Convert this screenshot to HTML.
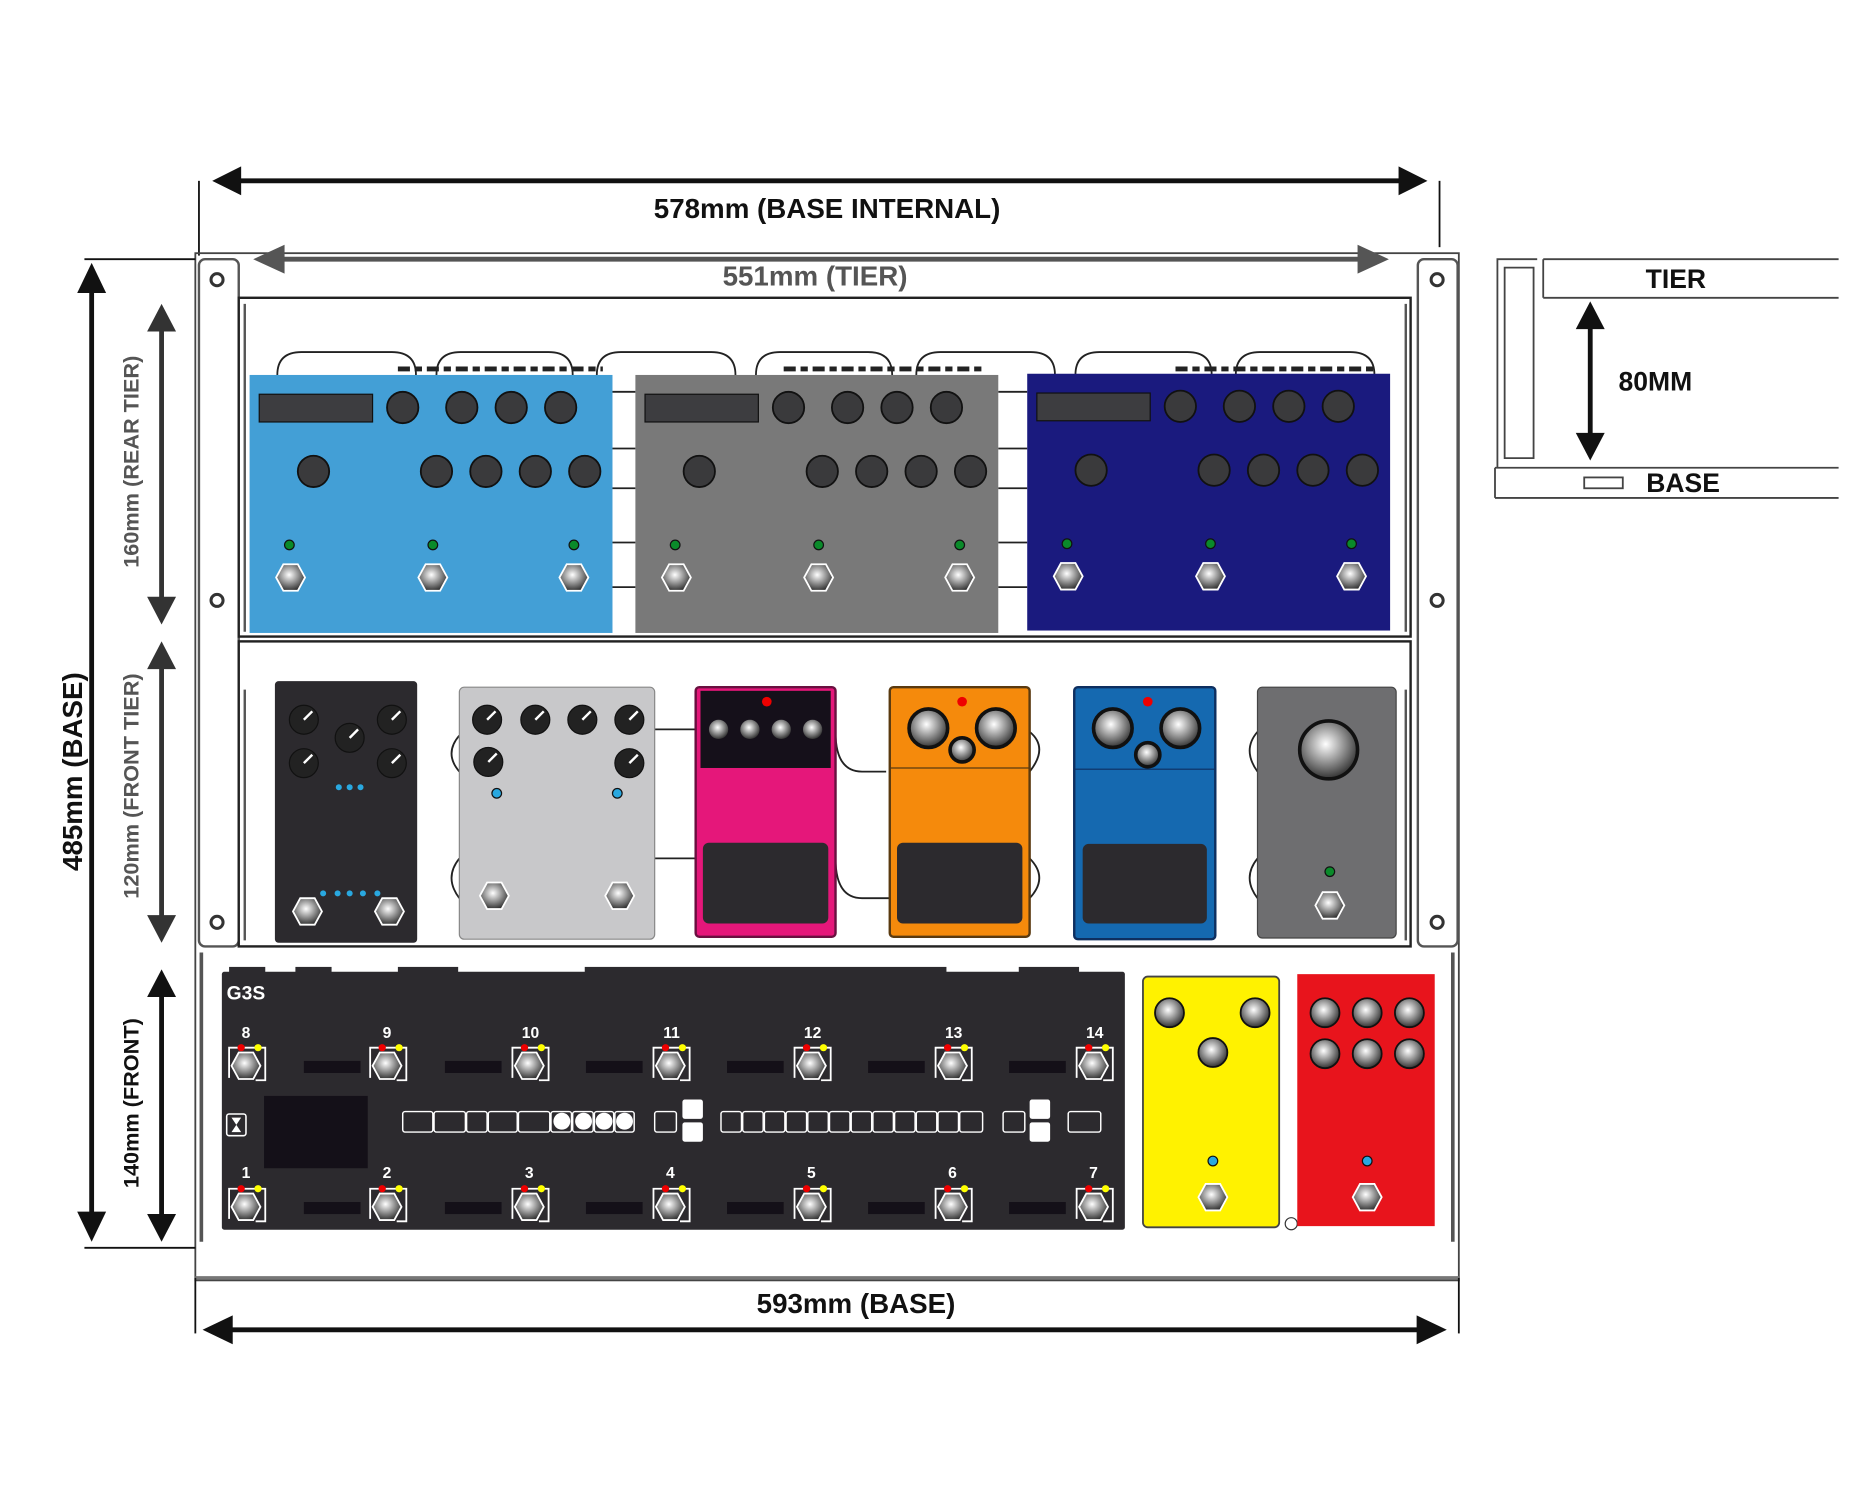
<!DOCTYPE html>
<html><head><meta charset="utf-8"><style>
html,body{margin:0;padding:0;background:#fff}
svg{display:block}
text{font-family:"Liberation Sans",sans-serif;font-weight:bold}
</style></head><body>
<svg width="1876" height="1501" viewBox="0 0 1556 1245" xmlns="http://www.w3.org/2000/svg">
<defs>
<radialGradient id="gr" cx="45%" cy="40%" r="60%"><stop offset="0" stop-color="#fff"/><stop offset="1" stop-color="#333"/></radialGradient>
<marker id="ah" markerWidth="8" markerHeight="8" refX="7" refY="4" orient="auto" markerUnits="strokeWidth"><path d="M0,0 L8,4 L0,8 z" fill="#111"/></marker>
<g id="fs"><polygon points="-12,0 -6,-11 6,-11 12,0 6,11 -6,11" fill="url(#gr)" stroke="#fff" stroke-width="1.5"/></g>
<g id="kn"><circle r="13" fill="#3a3a3c" stroke="#111" stroke-width="1.5"/></g>
<g id="gk"><circle r="12" fill="url(#gr)" stroke="#111" stroke-width="1.5"/></g>
<g id="g3"><path d="M-14,10 V-15 H16 V12 H8" fill="none" stroke="#fff" stroke-width="1.5"/><circle cx="-4" cy="-15" r="3" fill="#e00"/><circle cx="10" cy="-15" r="3" fill="#ff0"/><use href="#fs"/></g>
<g id="bk"><circle r="12" fill="#222" stroke="#111"/><line x1="0" y1="0" x2="7" y2="-7" stroke="#fff" stroke-width="2"/></g>
</defs>

<!-- top dimension -->
<line x1="165" y1="150" x2="165" y2="212" stroke="#111" stroke-width="1.5"/>
<line x1="1194" y1="150" x2="1194" y2="205" stroke="#111" stroke-width="1.5"/>
<line x1="195" y1="150" x2="1165" y2="150" stroke="#111" stroke-width="4"/>
<polygon points="176,150 200,138 200,162" fill="#111"/><polygon points="1184,150 1160,138 1160,162" fill="#111"/>
<text x="686" y="181" font-size="23" text-anchor="middle" fill="#111">578mm (BASE INTERNAL)</text>

<!-- frame -->
<rect x="162" y="210" width="1048" height="852" fill="none" stroke="#444" stroke-width="1.5"/>
<rect x="165" y="215" width="33" height="570" rx="5" fill="#fff" stroke="#555" stroke-width="2"/>
<rect x="1176" y="215" width="33" height="570" rx="5" fill="#fff" stroke="#555" stroke-width="2"/>
<line x1="162" y1="1060" x2="1210" y2="1060" stroke="#777" stroke-width="3"/>
<line x1="167" y1="790" x2="167" y2="1030" stroke="#555" stroke-width="3"/>
<line x1="1205" y1="790" x2="1205" y2="1030" stroke="#555" stroke-width="3"/>
<line x1="230" y1="215" x2="1140" y2="215" stroke="#555" stroke-width="4"/>
<polygon points="210,215 236,203 236,227" fill="#555"/><polygon points="1152,215 1126,203 1126,227" fill="#555"/>
<text x="676" y="237" font-size="23" text-anchor="middle" fill="#555">551mm (TIER)</text>

<g fill="#fff" stroke="#333" stroke-width="2.5">
<circle cx="180" cy="232" r="5"/><circle cx="180" cy="498" r="5"/><circle cx="180" cy="765" r="5"/>
<circle cx="1192" cy="232" r="5"/><circle cx="1192" cy="498" r="5"/><circle cx="1192" cy="765" r="5"/>
</g>

<rect x="198" y="247" width="972" height="281" fill="#fff" stroke="#222" stroke-width="2"/>
<line x1="203" y1="252" x2="203" y2="524" stroke="#555" stroke-width="2"/>
<line x1="1166" y1="252" x2="1166" y2="524" stroke="#555" stroke-width="2"/>
<rect x="198" y="532" width="972" height="253" fill="#fff" stroke="#222" stroke-width="2"/>
<line x1="203" y1="572" x2="203" y2="780" stroke="#555" stroke-width="2"/>
<line x1="1166" y1="572" x2="1166" y2="780" stroke="#555" stroke-width="2"/>

<!-- rear cables -->
<g fill="none" stroke="#222" stroke-width="1.5">
<path d="M230,311 Q230,292 250,292 H325 Q345,292 345,311"/>
<path d="M362,311 Q362,292 382,292 H455 Q475,292 475,311"/>
<path d="M495,311 Q495,292 515,292 H590 Q610,292 610,311"/>
<path d="M627,311 Q627,292 647,292 H720 Q740,292 740,311"/>
<path d="M760,311 Q760,292 780,292 H855 Q875,292 875,311"/>
<path d="M892,311 Q892,292 912,292 H985 Q1005,292 1005,311"/>
<path d="M1025,311 Q1025,292 1045,292 H1120 Q1140,292 1140,311"/>
<path d="M508,325 H527 M508,372 H527 M508,405 H527 M508,450 H527 M508,487 H527"/>
<path d="M828,325 H852 M828,372 H852 M828,405 H852 M828,450 H852 M828,487 H852"/>
</g>
<g stroke="#222" stroke-width="4" stroke-dasharray="10,4,6,4">
<line x1="330" y1="306" x2="500" y2="306"/><line x1="650" y1="306" x2="815" y2="306"/><line x1="975" y1="306" x2="1140" y2="306"/>
</g>

<!-- rear pedals -->
<g>
<rect x="207" y="311" width="301" height="214" fill="#439fd6"/>
<rect x="527" y="311" width="301" height="214" fill="#797979"/>
<rect x="852" y="310" width="301" height="213" fill="#1a1a7e"/>
</g>
<g id="rp">
<rect x="215" y="327" width="94" height="23" fill="#3d3d40" stroke="#111"/>
<use href="#kn" x="334" y="338"/><use href="#kn" x="383" y="338"/><use href="#kn" x="424" y="338"/><use href="#kn" x="465" y="338"/>
<use href="#kn" x="260" y="391"/><use href="#kn" x="362" y="391"/><use href="#kn" x="403" y="391"/><use href="#kn" x="444" y="391"/><use href="#kn" x="485" y="391"/>
<circle cx="240" cy="452" r="4" fill="#0a8a2a" stroke="#111"/><circle cx="359" cy="452" r="4" fill="#0a8a2a" stroke="#111"/><circle cx="476" cy="452" r="4" fill="#0a8a2a" stroke="#111"/>
<use href="#fs" x="241" y="479"/><use href="#fs" x="359" y="479"/><use href="#fs" x="476" y="479"/>
</g>
<use href="#rp" x="320"/>
<use href="#rp" x="645" y="-1"/>

<!-- front cables -->
<g fill="none" stroke="#222" stroke-width="1.5">
<path d="M381,610 Q368,625 381,640"/><path d="M381,712 Q368,728 381,745"/>
<path d="M543,605 H577 M543,712 H577"/>
<path d="M693,607 Q693,640 715,640 H735 M693,712 Q693,745 715,745 H738"/>
<path d="M854,607 Q870,620 854,640 M854,712 Q870,728 854,745"/>
<path d="M1043,607 Q1030,622 1043,640 M1043,712 Q1030,728 1043,745"/>
</g>

<!-- front pedals -->
<rect x="228" y="565" width="118" height="217" rx="3" fill="#2c2a2e"/>
<use href="#bk" x="252" y="597"/><use href="#bk" x="290" y="612"/><use href="#bk" x="325" y="597"/><use href="#bk" x="252" y="633"/><use href="#bk" x="325" y="633"/>
<g fill="#29a8e0"><circle cx="281" cy="653" r="2.5"/><circle cx="290" cy="653" r="2.5"/><circle cx="299" cy="653" r="2.5"/>
<circle cx="268" cy="741" r="2.5"/><circle cx="280" cy="741" r="2.5"/><circle cx="290" cy="741" r="2.5"/><circle cx="301" cy="741" r="2.5"/><circle cx="313" cy="741" r="2.5"/></g>
<use href="#fs" x="255" y="756"/><use href="#fs" x="323" y="756"/>

<rect x="381" y="570" width="162" height="209" rx="4" fill="#c8c8ca" stroke="#888"/>
<use href="#bk" x="404" y="597"/><use href="#bk" x="444" y="597"/><use href="#bk" x="483" y="597"/><use href="#bk" x="522" y="597"/><use href="#bk" x="405" y="632"/><use href="#bk" x="522" y="633"/>
<circle cx="412" cy="658" r="4" fill="#29a8e0" stroke="#111"/><circle cx="512" cy="658" r="4" fill="#29a8e0" stroke="#111"/>
<use href="#fs" x="410" y="743"/><use href="#fs" x="514" y="743"/>

<rect x="577" y="570" width="116" height="207" rx="3" fill="#e5177a" stroke="#6a1040" stroke-width="2"/>
<rect x="581" y="573" width="108" height="64" fill="#15101a"/>
<circle cx="636" cy="582" r="4" fill="#e00"/>
<g fill="url(#gr)"><circle cx="596" cy="605" r="8"/><circle cx="622" cy="605" r="8"/><circle cx="648" cy="605" r="8"/><circle cx="674" cy="605" r="8"/></g>
<rect x="583" y="699" width="104" height="67" rx="5" fill="#2c2a2e"/>

<rect x="738" y="570" width="116" height="207" rx="3" fill="#f58a0c" stroke="#5a3a10" stroke-width="2"/>
<line x1="738" y1="637" x2="854" y2="637" stroke="#5a3a10"/>
<circle cx="798" cy="582" r="4" fill="#e00"/>
<circle cx="770" cy="604" r="16" fill="url(#gr)" stroke="#111" stroke-width="3"/><circle cx="826" cy="604" r="16" fill="url(#gr)" stroke="#111" stroke-width="3"/><circle cx="798" cy="622" r="10" fill="url(#gr)" stroke="#111" stroke-width="3"/>
<rect x="744" y="699" width="104" height="67" rx="5" fill="#2c2a2e"/>

<rect x="891" y="570" width="117" height="209" rx="3" fill="#1569b0" stroke="#0e2f60" stroke-width="2"/>
<line x1="891" y1="638" x2="1008" y2="638" stroke="#0e2f60"/>
<circle cx="952" cy="582" r="4" fill="#e00"/>
<circle cx="923" cy="604" r="16" fill="url(#gr)" stroke="#111" stroke-width="3"/><circle cx="979" cy="604" r="16" fill="url(#gr)" stroke="#111" stroke-width="3"/><circle cx="952" cy="626" r="10" fill="url(#gr)" stroke="#111" stroke-width="3"/>
<rect x="898" y="700" width="103" height="66" rx="5" fill="#2c2a2e"/>

<rect x="1043" y="570" width="115" height="208" rx="4" fill="#6e6e70" stroke="#444"/>
<circle cx="1102" cy="622" r="24" fill="url(#gr)" stroke="#111" stroke-width="3"/>
<circle cx="1103" cy="723" r="4" fill="#0a8a2a" stroke="#111"/>
<use href="#fs" x="1103" y="751"/>

<!-- G3S -->
<g fill="#2c2a2e"><rect x="190" y="802" width="30" height="6"/><rect x="245" y="802" width="30" height="6"/><rect x="330" y="802" width="50" height="6"/><rect x="485" y="802" width="300" height="6"/><rect x="845" y="802" width="50" height="6"/></g>
<rect x="184" y="806" width="749" height="214" rx="2" fill="#2c2a2e"/>
<text x="188" y="829" font-size="16" fill="#fff">G3S</text>
<g fill="#141018"><rect x="252" y="880" width="47" height="10"/><rect x="369" y="880" width="47" height="10"/><rect x="486" y="880" width="47" height="10"/><rect x="603" y="880" width="47" height="10"/><rect x="720" y="880" width="47" height="10"/><rect x="837" y="880" width="47" height="10"/>
<rect x="252" y="997" width="47" height="10"/><rect x="369" y="997" width="47" height="10"/><rect x="486" y="997" width="47" height="10"/><rect x="603" y="997" width="47" height="10"/><rect x="720" y="997" width="47" height="10"/><rect x="837" y="997" width="47" height="10"/>
<rect x="219" y="909" width="86" height="60"/></g>
<use href="#g3" x="204" y="884"/><use href="#g3" x="321" y="884"/><use href="#g3" x="439" y="884"/><use href="#g3" x="556" y="884"/><use href="#g3" x="673" y="884"/><use href="#g3" x="790" y="884"/><use href="#g3" x="907" y="884"/>
<use href="#g3" x="204" y="1001"/><use href="#g3" x="321" y="1001"/><use href="#g3" x="439" y="1001"/><use href="#g3" x="556" y="1001"/><use href="#g3" x="673" y="1001"/><use href="#g3" x="790" y="1001"/><use href="#g3" x="907" y="1001"/>
<g font-size="13" fill="#fff" text-anchor="middle">
<text x="204" y="861">8</text><text x="321" y="861">9</text><text x="440" y="861">10</text><text x="557" y="861">11</text><text x="674" y="861">12</text><text x="791" y="861">13</text><text x="908" y="861">14</text>
<text x="204" y="977">1</text><text x="321" y="977">2</text><text x="439" y="977">3</text><text x="556" y="977">4</text><text x="673" y="977">5</text><text x="790" y="977">6</text><text x="907" y="977">7</text>
</g>
<rect x="188" y="924" width="16" height="18" rx="2" fill="none" stroke="#fff" stroke-width="1.3"/>
<path d="M192,927 H200 L196,933 Z M192,939 H200 L196,933 Z" fill="#fff"/>
<g fill="none" stroke="#fff" stroke-width="1.2">
<rect x="334" y="922" width="25" height="17" rx="2"/><rect x="360" y="922" width="26" height="17" rx="2"/><rect x="387" y="922" width="17" height="17" rx="2"/><rect x="405" y="922" width="24" height="17" rx="2"/><rect x="430" y="922" width="26" height="17" rx="2"/>
<rect x="457" y="922" width="17" height="17" rx="2"/><rect x="475" y="922" width="17" height="17" rx="2"/><rect x="493" y="922" width="16" height="17" rx="2"/><rect x="510" y="922" width="16" height="17" rx="2"/>
<rect x="543" y="922" width="18" height="17" rx="2"/>
<rect x="598" y="922" width="17" height="17" rx="2"/><rect x="616" y="922" width="17" height="17" rx="2"/><rect x="634" y="922" width="17" height="17" rx="2"/><rect x="652" y="922" width="17" height="17" rx="2"/><rect x="670" y="922" width="17" height="17" rx="2"/><rect x="688" y="922" width="17" height="17" rx="2"/><rect x="706" y="922" width="17" height="17" rx="2"/><rect x="724" y="922" width="17" height="17" rx="2"/><rect x="742" y="922" width="17" height="17" rx="2"/><rect x="760" y="922" width="17" height="17" rx="2"/><rect x="778" y="922" width="17" height="17" rx="2"/><rect x="796" y="922" width="19" height="17" rx="2"/>
<rect x="832" y="922" width="18" height="17" rx="2"/><rect x="886" y="922" width="27" height="17" rx="2"/>
</g>
<g fill="#fff"><ellipse cx="466" cy="930" rx="7" ry="7"/><ellipse cx="484" cy="930" rx="7" ry="7"/><ellipse cx="501" cy="930" rx="7" ry="7"/><ellipse cx="518" cy="930" rx="7" ry="7"/>
<rect x="566" y="912" width="17" height="16" rx="2"/><rect x="566" y="931" width="17" height="16" rx="2"/>
<rect x="854" y="912" width="17" height="16" rx="2"/><rect x="854" y="931" width="17" height="16" rx="2"/></g>

<!-- yellow & red -->
<rect x="948" y="810" width="113" height="208" rx="4" fill="#fff200" stroke="#444" stroke-width="1.5"/>
<use href="#gk" x="970" y="840"/><use href="#gk" x="1041" y="840"/><use href="#gk" x="1006" y="873"/>
<circle cx="1006" cy="963" r="4" fill="#29a8e0" stroke="#111"/><use href="#fs" x="1006" y="993"/>
<circle cx="1071" cy="1015" r="5" fill="#fff" stroke="#333"/>
<rect x="1076" y="808" width="114" height="209" fill="#e8141c"/>
<use href="#gk" x="1099" y="840"/><use href="#gk" x="1134" y="840"/><use href="#gk" x="1169" y="840"/>
<use href="#gk" x="1099" y="874"/><use href="#gk" x="1134" y="874"/><use href="#gk" x="1169" y="874"/>
<circle cx="1134" cy="963" r="4" fill="#29a8e0" stroke="#111"/><use href="#fs" x="1134" y="993"/>

<!-- left dims -->
<line x1="70" y1="215" x2="162" y2="215" stroke="#111" stroke-width="1.5"/>
<line x1="70" y1="1035" x2="162" y2="1035" stroke="#111" stroke-width="1.5"/>
<line x1="76" y1="238" x2="76" y2="1008" stroke="#111" stroke-width="4"/>
<polygon points="76,218 64,243 88,243" fill="#111"/><polygon points="76,1030 64,1005 88,1005" fill="#111"/>
<text transform="translate(68,640) rotate(-90)" font-size="23" text-anchor="middle" fill="#111">485mm (BASE)</text>
<g fill="#333">
<line x1="134" y1="270" x2="134" y2="500" stroke="#333" stroke-width="4"/>
<polygon points="134,252 122,275 146,275"/><polygon points="134,518 122,495 146,495"/>
<line x1="134" y1="550" x2="134" y2="765" stroke="#333" stroke-width="4"/>
<polygon points="134,532 122,555 146,555"/><polygon points="134,782 122,759 146,759"/>
</g>
<line x1="134" y1="822" x2="134" y2="1012" stroke="#111" stroke-width="4"/>
<polygon points="134,804 122,827 146,827" fill="#111"/><polygon points="134,1030 122,1007 146,1007" fill="#111"/>
<text transform="translate(115,383) rotate(-90)" font-size="18" text-anchor="middle" fill="#555">160mm (REAR TIER)</text>
<text transform="translate(115,652) rotate(-90)" font-size="18" text-anchor="middle" fill="#555">120mm (FRONT TIER)</text>
<text transform="translate(115,915) rotate(-90)" font-size="18" text-anchor="middle" fill="#111">140mm (FRONT)</text>

<!-- bottom dim -->
<line x1="162" y1="1060" x2="162" y2="1106" stroke="#111" stroke-width="1.5"/>
<line x1="1210" y1="1060" x2="1210" y2="1106" stroke="#111" stroke-width="1.5"/>
<line x1="190" y1="1103" x2="1180" y2="1103" stroke="#111" stroke-width="4"/>
<polygon points="168,1103 193,1091 193,1115" fill="#111"/><polygon points="1200,1103 1175,1091 1175,1115" fill="#111"/>
<text x="710" y="1089" font-size="23" text-anchor="middle" fill="#111">593mm (BASE)</text>

<!-- inset -->
<g fill="none" stroke="#444" stroke-width="1.5">
<path d="M1280,215 H1525 M1280,247 H1525 M1280,215 V247"/>
<path d="M1275,215 H1242 V388 M1248,222 H1272 V380 H1248 Z"/>
<path d="M1240,388 H1525 M1240,413 H1525 M1240,388 V413"/>
<rect x="1314" y="396" width="32" height="9"/>
</g>
<line x1="1319" y1="268" x2="1319" y2="364" stroke="#111" stroke-width="4"/>
<polygon points="1319,250 1307,273 1331,273" fill="#111"/><polygon points="1319,382 1307,359 1331,359" fill="#111"/>
<text x="1390" y="239" font-size="22" text-anchor="middle" fill="#111">TIER</text>
<text x="1373" y="324" font-size="22" text-anchor="middle" fill="#111">80MM</text>
<text x="1396" y="408" font-size="22" text-anchor="middle" fill="#111">BASE</text>
</svg>
</body></html>
